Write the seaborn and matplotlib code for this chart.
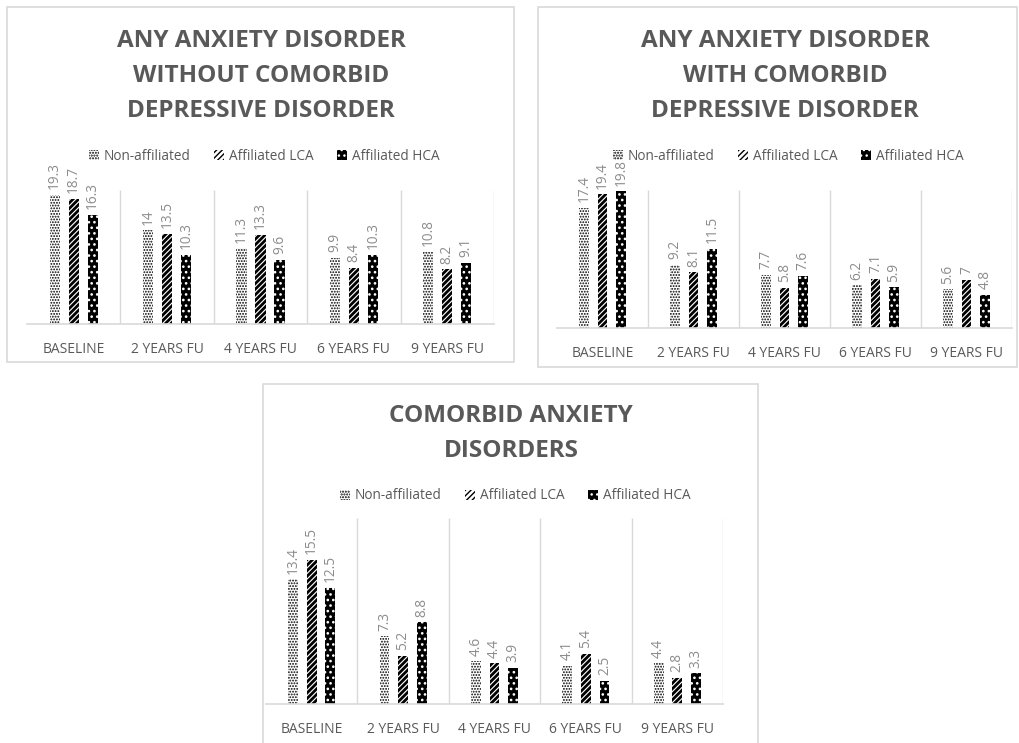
import matplotlib
matplotlib.use("Agg")
import matplotlib.pyplot as plt
from matplotlib.patches import Rectangle, Patch
import seaborn as sns
import pandas as pd

# ---------------- data ----------------
categories = ["BASELINE", "2 YEARS FU", "4 YEARS FU", "6 YEARS FU", "9 YEARS FU"]
groups = ["Non-affiliated", "Affiliated LCA", "Affiliated HCA"]

title1 = "ANY ANXIETY DISORDER\nWITHOUT COMORBID\nDEPRESSIVE DISORDER"
p1_non = [19.3, 14, 11.3, 9.9, 10.8]
p1_lca = [18.7, 13.5, 13.3, 8.4, 8.2]
p1_hca = [16.3, 10.3, 9.6, 10.3, 9.1]

title2 = "ANY ANXIETY DISORDER\nWITH COMORBID\nDEPRESSIVE DISORDER"
p2_non = [17.4, 9.2, 7.7, 6.2, 5.6]
p2_lca = [19.4, 8.1, 5.8, 7.1, 7]
p2_hca = [19.8, 11.5, 7.6, 5.9, 4.8]

title3 = "COMORBID ANXIETY\nDISORDERS"
p3_non = [13.4, 7.3, 4.6, 4.1, 4.4]
p3_lca = [15.5, 5.2, 4.4, 5.4, 2.8]
p3_hca = [12.5, 8.8, 3.9, 2.5, 3.3]

# ---------------- styling ----------------
sns.set_theme(style="white")
plt.rcParams["font.family"] = ["Open Sans", "DejaVu Sans"]

W, H = 1020, 743
fig = plt.figure(figsize=(W / 100, H / 100), dpi=100)
fig.patch.set_facecolor("white")

TXT = "#595959"
LBL = "#8c8c8c"
GRID = "#d9d9d9"

styles = {
    "Non-affiliated": dict(face="white", hatchcol="black", hatch="......", hlw=0.9),
    "Affiliated LCA": dict(face="white", hatchcol="black", hatch="//////", hlw=2.0),
    "Affiliated HCA": dict(face="black", hatchcol="white", hatch="...", hlw=1.1),
}


def fx(px):
    return px / W


def fy(py):
    return 1 - py / H


def add_box(l, t, r, b):
    fig.add_artist(Rectangle((fx(l), fy(b)), fx(r - l), (b - t) / H,
                             transform=fig.transFigure, fill=False,
                             edgecolor=GRID, lw=1.2))


def style_patch(p, st):
    p.set_facecolor(st["face"])
    p.set_edgecolor(st["hatchcol"])
    p.set_linewidth(0)
    p.set_hatch(st["hatch"])
    try:
        p.set_hatch_linewidth(st["hlw"])
    except AttributeError:
        pass


def panel(box, axrect, title, title_xy, legend_xy, non, lca, hca):
    add_box(*box)
    l, t, r, b = axrect
    ax = fig.add_axes([fx(l), fy(b), fx(r - l), (b - t) / H])
    df = pd.DataFrame({
        "time": categories * 3,
        "group": [groups[0]] * 5 + [groups[1]] * 5 + [groups[2]] * 5,
        "value": list(non) + list(lca) + list(hca),
    })
    sns.barplot(data=df, x="time", y="value", hue="group", order=categories,
                hue_order=groups, width=0.61, gap=0.47, errorbar=None,
                legend=False, ax=ax, palette=["white", "white", "black"])
    for cont, g in zip(ax.containers, groups):
        for p in cont.patches:
            style_patch(p, styles[g])
        ax.bar_label(cont, labels=[f"{v:g}" for v in cont.datavalues],
                     rotation=90, padding=4, color=LBL, fontsize=9.8)
    ax.set_xlim(-0.5, 4.5)
    ax.set_ylim(0, 20)
    ax.vlines([0.5, 1.5, 2.5, 3.5, 4.5], 0, 20, color=GRID, lw=1, zorder=0)
    for s in ["top", "left", "right"]:
        ax.spines[s].set_visible(False)
    ax.spines["bottom"].set_color(GRID)
    ax.spines["bottom"].set_linewidth(1.2)
    ax.set_yticks([])
    ax.set_xlabel("")
    ax.set_ylabel("")
    ax.tick_params(axis="x", length=0, pad=13, labelsize=10, labelcolor=TXT)
    ax.set_facecolor("none")

    fig.text(fx(title_xy[0]), fy(title_xy[1]), title, ha="center", va="top",
             fontsize=17.5, fontweight="bold", color=TXT, linespacing=1.6)

    handles = []
    for g in groups:
        st = styles[g]
        hp = Patch(facecolor=st["face"], edgecolor=st["hatchcol"], linewidth=0,
                   hatch=st["hatch"], label=g)
        try:
            hp.set_hatch_linewidth(st["hlw"])
        except AttributeError:
            pass
        handles.append(hp)
    fig.legend(handles=handles, loc="center", ncol=3, frameon=False,
               bbox_to_anchor=(fx(legend_xy[0]), fy(legend_xy[1])),
               fontsize=9.8, labelcolor=TXT, handlelength=0.75,
               handleheight=0.75, handletextpad=0.35, columnspacing=1.7)
    return ax


panel((7, 7, 514, 362), (27, 190, 494, 324), title1, (261, 29), (264, 156),
      p1_non, p1_lca, p1_hca)
panel((538, 7, 1017, 367), (557, 190, 1012, 328), title2, (785, 29), (788, 156),
      p2_non, p2_lca, p2_hca)
panel((263, 384, 758, 745), (266, 518, 723, 704), title3, (511, 404), (515, 496),
      p3_non, p3_lca, p3_hca)

fig.savefig("out.png", dpi=100, facecolor="white")
